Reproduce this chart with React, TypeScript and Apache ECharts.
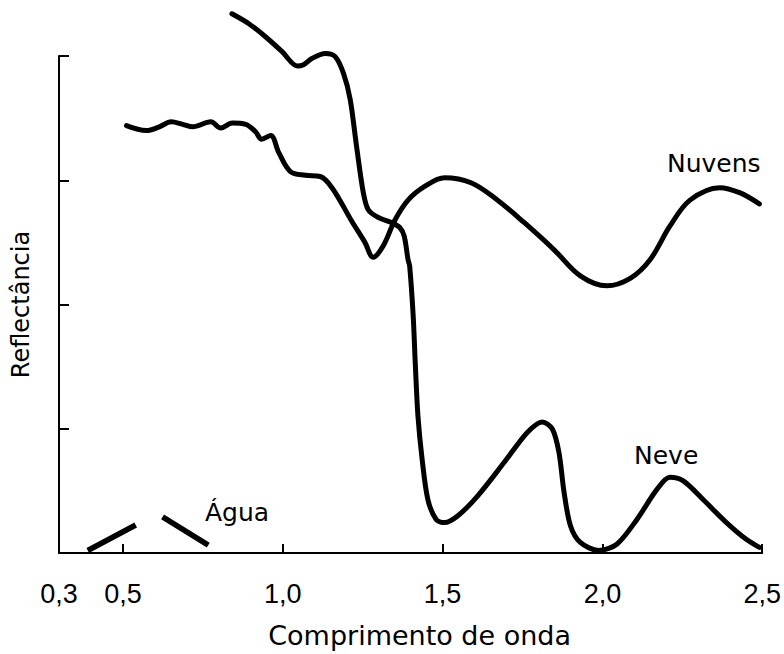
import React, { useEffect, useRef } from "react";
import * as echarts from "echarts";

// Wavelength (µm) / reflectance (relative units, axis ticks at 1..4)
const neveX = [0.841, 0.894, 0.946, 0.998, 1.045, 1.065, 1.091, 1.133, 1.164, 1.19, 1.211, 1.231, 1.252, 1.268, 1.299, 1.34, 1.366, 1.38, 1.392, 1.397, 1.408, 1.415, 1.423, 1.436, 1.454, 1.48, 1.506, 1.548, 1.61, 1.693, 1.765, 1.812, 1.843, 1.864, 1.88, 1.9, 1.931, 1.988, 2.045, 2.108, 2.17, 2.211, 2.253, 2.315, 2.388, 2.45, 2.491];
const neveY = [4.34, 4.26, 4.155, 4.035, 3.92, 3.93, 3.98, 4.02, 3.995, 3.86, 3.65, 3.27, 2.9, 2.76, 2.7, 2.66, 2.62, 2.55, 2.36, 2.31, 1.91, 1.5, 1.1, 0.755, 0.43, 0.27, 0.245, 0.3, 0.46, 0.73, 0.97, 1.055, 1.0, 0.81, 0.49, 0.22, 0.085, 0.02, 0.07, 0.27, 0.51, 0.61, 0.58, 0.43, 0.245, 0.11, 0.045];

const nuvensX = [0.511, 0.573, 0.614, 0.651, 0.687, 0.718, 0.775, 0.806, 0.842, 0.884, 0.915, 0.934, 0.962, 0.988, 1.024, 1.071, 1.117, 1.154, 1.216, 1.257, 1.283, 1.314, 1.351, 1.392, 1.444, 1.506, 1.589, 1.672, 1.755, 1.849, 1.931, 2.014, 2.087, 2.149, 2.211, 2.274, 2.367, 2.429, 2.491];
const nuvensY = [3.44, 3.4, 3.43, 3.47, 3.45, 3.43, 3.47, 3.42, 3.46, 3.45, 3.39, 3.33, 3.36, 3.22, 3.07, 3.04, 3.03, 2.94, 2.67, 2.5, 2.38, 2.47, 2.68, 2.84, 2.95, 3.02, 2.98, 2.84, 2.66, 2.44, 2.23, 2.15, 2.21, 2.36, 2.63, 2.84, 2.94, 2.9, 2.81];

const aguaX = [0.39, 0.54, 0.58, 0.624, 0.767];
const aguaY: (number | null)[] = [0.02, 0.225, null, 0.29, 0.064];

const xTickValues = [0.5, 1.0, 1.5, 2.0, 2.5];
const xLabelValues = [0.3, 0.5, 1.0, 1.5, 2.0, 2.5];

const xTitle = "Comprimento de onda";
const yTitle = "Reflectância";

const zip = (xs: number[], ys: (number | null)[]) => xs.map((x, i) => [x, ys[i]]);

export default function App() {
  const ref = useRef<HTMLDivElement>(null);
  useEffect(() => {
    if (!ref.current) return;
    const chart = echarts.init(ref.current, null, { renderer: "svg" });
    const lineBase = {
      type: "line",
      showSymbol: false,
      symbol: "none",
      clip: false,
      silent: true,
      color: "#000",
    };
    chart.setOption({
      animation: false,
      backgroundColor: "#fff",
      grid: { left: 59, right: 18, top: 56, bottom: 100, containLabel: false },
      xAxis: {
        type: "value",
        min: 0.3,
        max: 2.5,
        splitLine: { show: false },
        axisLine: { show: true, lineStyle: { color: "#000", width: 2 } },
        axisTick: {
          show: true,
          inside: true,
          length: 9,
          customValues: xTickValues,
          lineStyle: { color: "#000", width: 2 },
        },
        axisLabel: {
          customValues: xLabelValues,
          formatter: (v: number) => v.toFixed(1).replace(".", ","),
          color: "#000",
          fontSize: 27,
          fontFamily: "'Liberation Sans Narrow', 'Liberation Sans'",
          margin: 27,
        },
        name: xTitle,
        nameLocation: "middle",
        nameGap: 69,
        nameMoveOverlap: false,
        nameTextStyle: {
          color: "#000",
          fontSize: 27,
          fontFamily: "DejaVu Sans",
          verticalAlign: "top",
          padding: [0, 0, 0, 18],
        },
      },
      yAxis: {
        type: "value",
        min: 0,
        max: 4,
        interval: 1,
        splitLine: { show: false },
        axisLine: { show: true, lineStyle: { color: "#000", width: 2 } },
        axisTick: { show: true, inside: true, length: 10, lineStyle: { color: "#000", width: 2 } },
        axisLabel: { show: false },
        name: yTitle,
        nameLocation: "middle",
        nameRotate: 90,
        nameGap: 26,
        nameMoveOverlap: false,
        nameTextStyle: { color: "#000", fontSize: 24, fontFamily: "DejaVu Sans" },
      },
      series: [
        { ...lineBase, name: "Neve", data: zip(neveX, neveY), smooth: 0.3, lineStyle: { color: "#000", width: 5, cap: "round" } },
        { ...lineBase, name: "Nuvens", data: zip(nuvensX, nuvensY), smooth: 0.35, lineStyle: { color: "#000", width: 5, cap: "round" } },
        { ...lineBase, name: "Água", data: zip(aguaX, aguaY), smooth: false, connectNulls: false, lineStyle: { color: "#000", width: 5.5, cap: "butt" } },
      ],
      graphic: [
        { type: "text", left: 667, top: 151, style: { text: "Nuvens", fill: "#000", font: "25px 'DejaVu Sans'" } },
        { type: "text", left: 634, top: 443, style: { text: "Neve", fill: "#000", font: "25px 'DejaVu Sans'" } },
        { type: "text", left: 205, top: 500, style: { text: "Água", fill: "#000", font: "25px 'DejaVu Sans'" } },
      ],
    });
    return () => chart.dispose();
  }, []);
  return <div ref={ref} style={{ position: "absolute", left: 0, top: 0, width: 784, height: 654 }} />;
}
